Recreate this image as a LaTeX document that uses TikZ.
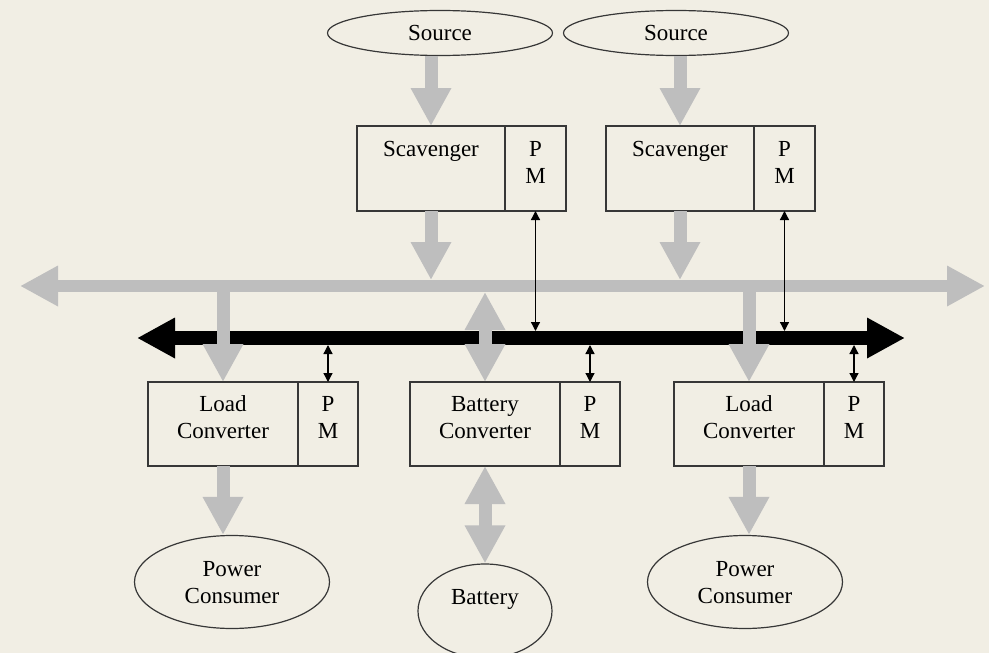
\documentclass[tikz,border=0pt]{standalone}
\usepackage{fontspec}
\setmainfont{Liberation Serif}
\usetikzlibrary{positioning,arrows.meta,shapes.geometric}
\definecolor{PaperBeige}{RGB}{241,238,228}
\definecolor{BusGrey}{RGB}{190,190,190}
\definecolor{EdgeGrey}{RGB}{55,55,55}
% two-line text, shifted up (or down) inside its shape
\newcommand{\lifted}[2][4pt]{\raisebox{#1}[\height][\depth]{\begin{tabular}{@{}c@{}}#2\end{tabular}}}

\begin{document}
\begin{tikzpicture}[x=1pt, y=-1pt,
    font=\fontsize{23}{27}\selectfont,
    unit/.style={draw=EdgeGrey, line width=1.2pt, minimum height=85pt, inner sep=0pt, outer sep=0pt},
    pm/.style={unit, minimum width=61pt},
    blob/.style={ellipse, draw=EdgeGrey, line width=1.2pt, inner sep=0pt},
    power/.style={line width=13pt, BusGrey, -{Triangle[length=38pt,width=38pt]}},
    power2/.style={power, {Triangle[length=38pt,width=38pt]}-{Triangle[length=38pt,width=38pt]}},
    ctrl/.style={line width=14pt, black, {Triangle[length=38pt,width=38pt]}-{Triangle[length=38pt,width=38pt]}},
    sig/.style={line width=1.3pt, black, {Triangle[length=9pt,width=9pt]}-{Triangle[length=9pt,width=9pt]}}
]
    \fill[PaperBeige] (0,0) rectangle (989,653);
    \useasboundingbox (0,0) rectangle (989,653);

    % Sources and scavengers
    \node[blob, minimum width=225pt, minimum height=45pt] (srcA) at (440,33) {Source};
    \node[blob, minimum width=225pt, minimum height=45pt] (srcB) at (676,33) {Source};
    \node[unit, minimum width=148pt] (scavA) at (431,168.5) {\lifted{Scavenger\\ \mbox{}}};
    \node[pm, right=0pt of scavA] (pmA) {\lifted{P\\M}};
    \node[unit, minimum width=148pt] (scavB) at (680,168.5) {\lifted{Scavenger\\ \mbox{}}};
    \node[pm, right=0pt of scavB] (pmB) {\lifted{P\\M}};

    % Converters
    \node[unit, minimum width=150pt, minimum height=84pt] (loadA) at (223,424) {\lifted{Load\\Converter}};
    \node[pm, minimum width=60pt, minimum height=84pt, right=0pt of loadA] (pmLA) {\lifted{P\\M}};
    \node[unit, minimum width=150pt, minimum height=84pt] (batConv) at (485,424) {\lifted{Battery\\Converter}};
    \node[pm, minimum width=60pt, minimum height=84pt, right=0pt of batConv] (pmBat) {\lifted{P\\M}};
    \node[unit, minimum width=150pt, minimum height=84pt] (loadB) at (749,424) {\lifted{Load\\Converter}};
    \node[pm, minimum width=60pt, minimum height=84pt, right=0pt of loadB] (pmLB) {\lifted{P\\M}};

    % Consumers and storage
    \node[blob, minimum width=195pt, minimum height=93pt] (consA) at (232,582) {\lifted[-3pt]{Power\\Consumer}};
    \node[blob, minimum width=134pt, minimum height=94pt] (battery) at (485,611) {\raisebox{12pt}[\height][\depth]{Battery}};
    \node[blob, minimum width=195pt, minimum height=93pt] (consB) at (745,582) {\lifted[-3pt]{Power\\Consumer}};

    % Buses
    \coordinate (gwest) at (20,286);
    \coordinate (geast) at (985,286);
    \coordinate (gtop) at (0,280);
    \coordinate (gbot) at (0,292);
    \coordinate (kwest) at (137,338);
    \coordinate (keast) at (905,338);
    \coordinate (ktop) at (0,331);
    \coordinate (kbot) at (0,345);
    \draw[power2, line width=12pt] (gwest) -- (geast);
    \draw[ctrl] (kwest) -- (keast);

    % Power flow
    \draw[power] (scavA.north |- srcA.south) -- (scavA.north);
    \draw[power] (scavB.north |- srcB.south) -- (scavB.north);
    \draw[power] (scavA.south) -- (scavA.south |- gtop);
    \draw[power] (scavB.south) -- (scavB.south |- gtop);
    \draw[power] (loadA.north |- gwest) -- (loadA.north);
    \draw[power2] (batConv.north |- gbot) -- (batConv.north);
    \draw[power] (loadB.north |- gwest) -- (loadB.north);
    \draw[power] (loadA.south) -- (loadA.south |- consA.north);
    \draw[power2] (batConv.south) -- (battery.north);
    \draw[power] (loadB.south) -- (loadB.south |- consB.north);

    % Power management signals
    \draw[sig] (pmA.south) -- (pmA.south |- ktop);
    \draw[sig] (pmB.south) -- (pmB.south |- ktop);
    \draw[sig] (pmLA.north |- kbot) -- (pmLA.north);
    \draw[sig] (pmBat.north |- kbot) -- (pmBat.north);
    \draw[sig] (pmLB.north |- kbot) -- (pmLB.north);

\end{tikzpicture}
\end{document}
